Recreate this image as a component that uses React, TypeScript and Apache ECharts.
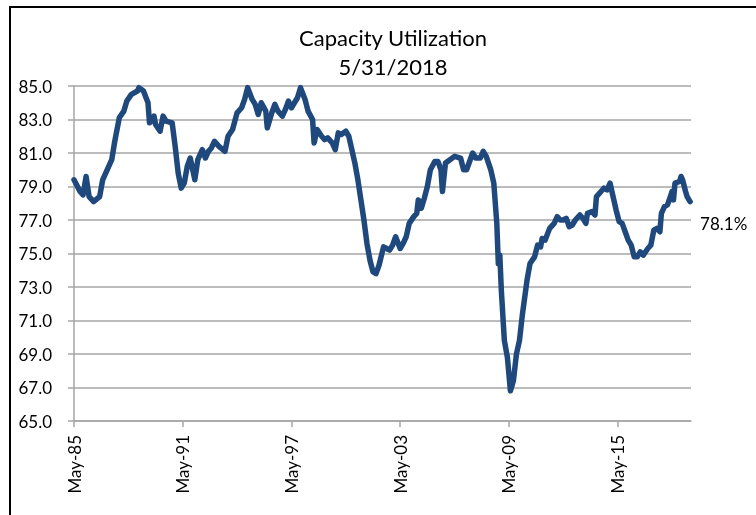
import React, { useEffect, useRef } from 'react';
import * as echarts from 'echarts';

// Month index counted from May 1985 (0 = May-85)
const monthIndex = [
  0, 4, 6, 8, 10, 13, 17, 19, 21, 25, 27, 30, 33, 35, 38, 42, 43, 46, 49, 50,
  53, 54, 57, 59, 61, 65, 67, 69, 71, 73, 75, 77, 80, 82, 85, 87, 89, 91, 93, 96,
  100, 102, 105, 108, 111, 113, 115, 118, 120, 122, 124, 127, 128, 131, 133, 135, 138, 140, 142, 144,
  148, 150, 153, 155, 158, 159, 161, 164, 166, 168, 171, 173, 175, 177, 180, 182, 184, 186, 188, 190,
  192, 194, 196, 198, 200, 202, 205, 207, 209, 211, 213, 216, 218, 220, 222, 225, 227, 228, 230, 232,
  234, 236, 239, 241, 243, 244, 246, 249, 252, 256, 258, 260, 264, 266, 269, 271, 273, 276, 278, 280,
  281, 282, 283, 285, 287, 289, 291, 293, 295, 297, 300, 302, 305, 307, 309, 310, 312, 315, 318, 320,
  322, 324, 326, 328, 330, 332, 335, 337, 339, 340, 343, 345, 346, 349, 351, 353, 355, 357, 359, 361,
  363, 365, 367, 369, 371, 373, 375, 377, 380, 382, 384, 386, 388, 389, 391, 393, 395, 396, 397, 398,
  401, 402, 403, 405, 406, 408,
];

// Capacity utilization (%)
const utilization = [
  79.4, 78.7, 78.5, 79.6, 78.4, 78.1, 78.4, 79.4, 79.8, 80.6, 81.7, 83.1, 83.5, 84.1, 84.5, 84.7, 84.9, 84.7, 84.0, 82.8,
  83.2, 82.7, 82.3, 83.2, 82.9, 82.8, 81.4, 79.8, 78.9, 79.2, 80.2, 80.7, 79.4, 80.6, 81.2, 80.7, 81.1, 81.3, 81.7, 81.4,
  81.1, 82.0, 82.4, 83.4, 83.7, 84.2, 84.9, 84.2, 83.9, 83.3, 84.0, 83.5, 82.5, 83.4, 83.9, 83.5, 83.2, 83.6, 84.1, 83.7,
  84.3, 84.9, 84.2, 83.5, 83.0, 81.6, 82.4, 82.0, 81.8, 81.9, 81.6, 81.2, 82.2, 82.1, 82.3, 82.0, 81.2, 80.4, 79.4, 78.2,
  77.0, 75.6, 74.6, 73.9, 73.8, 74.3, 75.4, 75.3, 75.2, 75.5, 76.0, 75.3, 75.6, 76.0, 76.8, 77.2, 77.4, 78.2, 77.7, 78.3,
  79.0, 80.0, 80.5, 80.5, 80.0, 78.7, 80.4, 80.6, 80.8, 80.7, 80.0, 80.0, 81.0, 80.7, 80.7, 81.1, 80.8, 80.0, 79.2, 76.8,
  74.4, 74.9, 72.8, 69.8, 68.8, 66.8, 67.4, 69.0, 69.8, 71.4, 73.4, 74.4, 74.8, 75.5, 75.4, 75.9, 75.8, 76.5, 76.8, 77.2,
  77.0, 77.0, 77.1, 76.6, 76.7, 77.0, 77.3, 77.1, 76.8, 77.4, 77.5, 77.3, 78.4, 78.7, 78.9, 78.8, 79.2, 78.4, 77.6, 76.9,
  76.8, 76.3, 75.8, 75.5, 74.8, 74.8, 75.1, 74.9, 75.3, 75.5, 76.4, 76.5, 76.3, 77.4, 77.8, 77.9, 78.4, 78.7, 78.2, 79.2,
  79.3, 79.6, 79.4, 78.7, 78.4, 78.1,
];

const xTickValues = [0, 72, 144, 216, 288, 360];
const xTickLabels = ['May-85', 'May-91', 'May-97', 'May-03', 'May-09', 'May-15'];

const titleLines = ['Capacity Utilization', '5/31/2018'];

export default function App() {
  const ref = useRef<HTMLDivElement>(null);

  useEffect(() => {
    if (!ref.current) return;
    const chart = echarts.init(ref.current, null, { renderer: 'svg' });
    const data = monthIndex.map((m, i) => [m, utilization[i]]);
    const last = utilization[utilization.length - 1];
    const grey = '#a6a6a6';

    chart.setOption({
      animation: false,
      textStyle: { fontFamily: 'Lato' },
      title: {
        text: titleLines.join('\n'),
        left: 388,
        top: 18,
        textAlign: 'center',
        textStyle: {
          fontFamily: 'Lato',
          fontSize: 22,
          fontWeight: 'normal',
          color: '#000',
          lineHeight: 29,
        },
      },
      grid: { left: 74, right: 65, top: 86, bottom: 94 },
      xAxis: {
        type: 'value',
        min: 0,
        max: 408.6,
        interval: 72,
        axisLine: { show: true, lineStyle: { color: grey, width: 1.5 } },
        axisTick: {
          show: true,
          length: 6,
          customValues: xTickValues,
          lineStyle: { color: grey, width: 1.5 },
        },
        axisLabel: {
          customValues: xTickValues,
          rotate: 90,
          margin: 14,
          fontSize: 17,
          fontFamily: 'Lato',
          color: '#000',
          formatter: (v: number) => {
            const i = xTickValues.indexOf(Math.round(v));
            return i >= 0 ? xTickLabels[i] : '';
          },
        },
        splitLine: { show: false },
      },
      yAxis: {
        type: 'value',
        min: 65,
        max: 85,
        interval: 2,
        axisLine: { show: true, lineStyle: { color: grey, width: 1.5 } },
        axisTick: { show: true, length: 6, lineStyle: { color: grey, width: 1.5 } },
        axisLabel: {
          margin: 22,
          fontSize: 17,
          fontFamily: 'Lato',
          color: '#000',
          formatter: (v: number) => v.toFixed(1),
        },
        splitLine: { show: true, lineStyle: { color: grey, width: 1.5 } },
      },
      series: [
        {
          type: 'line',
          data,
          symbol: 'none',
          showSymbol: false,
          lineStyle: { color: '#1F497D', width: 5.5, join: 'round', cap: 'round' },
          endLabel: {
            show: true,
            formatter: `${last.toFixed(1)}%`,
            offset: [2, 22],
            fontSize: 17,
            fontFamily: 'Lato',
            color: '#000',
          },
        },
      ],
      graphic: [
        {
          type: 'rect',
          silent: true,
          z: 100,
          shape: { x: 10, y: 7, width: 900, height: 700 },
          style: { fill: 'none', stroke: '#000', lineWidth: 2 },
        },
      ],
    });

    return () => chart.dispose();
  }, []);

  return (
    <div
      ref={ref}
      style={{ position: 'fixed', left: 0, top: 0, width: 756, height: 515 }}
    />
  );
}
